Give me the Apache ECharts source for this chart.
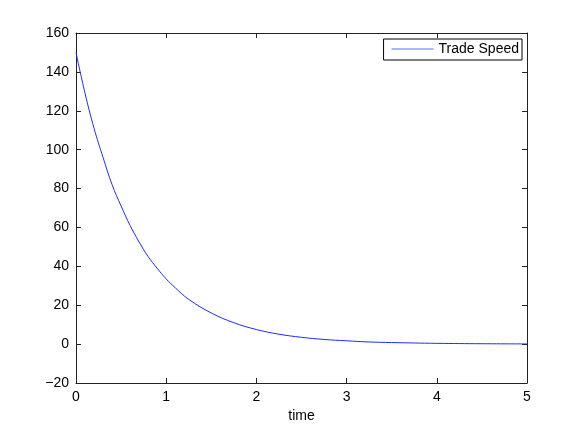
<!DOCTYPE html>
<html>
<head>
<meta charset="utf-8">
<script src="https://cdn.jsdelivr.net/npm/echarts@6/dist/echarts.min.js"></script>
<style>
  html, body { margin: 0; padding: 0; background: #fff; }
  #chart { width: 582px; height: 432px; }
</style>
</head>
<body>
<div id="chart"></div>
<script>
// values
const times = [0, 0.1, 0.2, 0.3, 0.4, 0.5, 0.6, 0.7, 0.8, 0.9, 1, 1.1, 1.25, 1.5, 1.75, 2, 2.25, 2.5, 2.75, 3, 3.25, 3.5, 4, 4.5, 5]
const tradeSpeed = [150, 129, 111, 96, 82, 71, 61, 52.5, 45, 39, 33.5, 29, 23, 16, 11, 7.5, 5.1, 3.5, 2.4, 1.7, 1.1, 0.8, 0.4, 0.2, 0.1]
const seriesName = 'Trade Speed'
const xTitle = 'time'

const points = times.map((t, i) => [t, tradeSpeed[i]])

const chart = echarts.init(document.getElementById('chart'), null, { renderer: 'canvas' })

const axisLine = { show: true, onZero: false, lineStyle: { color: '#222', width: 1 } }
const tickIn = { show: true, inside: true, length: 5, lineStyle: { color: '#222' } }
const labelFont = { color: '#000', fontSize: 14, fontFamily: 'Liberation Sans, Arial, sans-serif' }

const option = {
    animation: false,
    backgroundColor: '#fff',
    grid: { left: 76, top: 33, right: 55, bottom: 49, containLabel: false },
    legend: {
        data: [{ name: seriesName, icon: 'rect', itemStyle: { color: '#5a6cff' } }],
        right: 60,
        top: 39,
        itemWidth: 42,
        itemHeight: 1,
        itemGap: 4,
        padding: [3, 3, 4, 8],
        borderColor: '#000',
        borderWidth: 1,
        borderRadius: 0,
        textStyle: labelFont
    },
    xAxis: [
        {
            type: 'value', min: 0, max: 5, interval: 1,
            name: xTitle, nameLocation: 'middle', nameGap: 22,
            nameTextStyle: labelFont,
            axisLine: axisLine, axisTick: tickIn,
            axisLabel: Object.assign({ margin: 7 }, labelFont),
            splitLine: { show: false }
        },
        {
            type: 'value', min: 0, max: 5, interval: 1, position: 'top',
            axisLine: axisLine, axisTick: tickIn,
            axisLabel: { show: false }, splitLine: { show: false }
        }
    ],
    yAxis: [
        {
            type: 'value', min: -20, max: 160, interval: 20,
            axisLine: axisLine, axisTick: tickIn,
            axisLabel: Object.assign({
                margin: 7,
                formatter: v => String(v).replace('-', '\u2212')
            }, labelFont),
            splitLine: { show: false }
        },
        {
            type: 'value', min: -20, max: 160, interval: 20, position: 'right',
            axisLine: axisLine, axisTick: tickIn,
            axisLabel: { show: false }, splitLine: { show: false }
        }
    ],
    series: [
        {
            name: seriesName,
            type: 'line',
            data: points,
            smooth: 0.4,
            symbol: 'none',
            lineStyle: { color: '#1a2cff', width: 1 },
            itemStyle: { color: '#1a2cff' }
        }
    ]
}

chart.setOption(option)
</script>
</body>
</html>
